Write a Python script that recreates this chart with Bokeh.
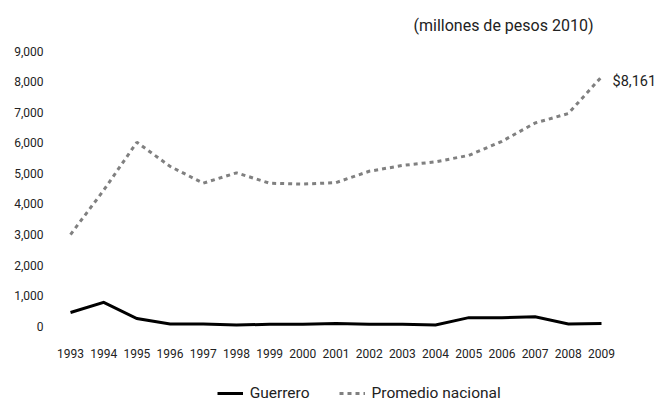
from bokeh.plotting import figure
from bokeh.layouts import column
from bokeh.models import (Range1d, FixedTicker, NumeralTickFormatter, Legend,
                          LegendItem, Label)
from bokeh.embed import file_html
from bokeh.resources import INLINE

# ---- data ----
years = [1993, 1994, 1995, 1996, 1997, 1998, 1999, 2000, 2001,
         2002, 2003, 2004, 2005, 2006, 2007, 2008, 2009]
year_labels = ["1993", "1994", "1995", "1996", "1997", "1998", "1999", "2000", "2001",
               "2002", "2003", "2004", "2005", "2006", "2007", "2008", "2009"]
guerrero = [450, 780, 250, 70, 70, 40, 60, 60, 90, 65, 60, 40, 280, 280, 310, 70, 90]
promedio = [3000, 4450, 6020, 5230, 4680, 5020, 4680, 4650, 4700, 5070,
            5260, 5380, 5590, 6050, 6650, 6960, 8161]
y_ticks = [0, 1000, 2000, 3000, 4000, 5000, 6000, 7000, 8000, 9000]
series_names = ["Guerrero", "Promedio nacional"]
unit_note = "(millones de pesos 2010)"

FONT = "Roboto"
TXT = "#222222"
STYLES = [dict(line_color="black", line_width=3, line_join="miter"),
          dict(line_color="#808080", line_width=3, line_dash="4 4")]

# ---- main chart ----
p = figure(width=661, height=372, output_backend="svg", toolbar_location=None,
           x_range=Range1d(1992.397, 2010.808), y_range=Range1d(-402.5, 10659),
           min_border_left=50, min_border_right=0, min_border_top=0,
           min_border_bottom=34)
p.outline_line_color = None
p.grid.visible = False
p.background_fill_color = "white"
p.border_fill_color = "white"

p.line(years, guerrero, **STYLES[0])
p.line(years, promedio, **STYLES[1])

for ax in (p.xaxis[0], p.yaxis[0]):
    ax.axis_line_color = None
    ax.major_tick_line_color = None
    ax.minor_tick_line_color = None
    ax.major_tick_out = 0
    ax.major_tick_in = 0
    ax.major_label_text_font = FONT
    ax.major_label_text_font_size = "12px"
    ax.major_label_text_color = TXT

p.xaxis.ticker = FixedTicker(ticks=years)
p.xaxis.major_label_overrides = {y: s for y, s in zip(years, year_labels)}
p.xaxis.major_label_standoff = 10

p.yaxis.ticker = FixedTicker(ticks=y_ticks)
p.yaxis.formatter = NumeralTickFormatter(format="0,0")
p.yaxis.major_label_standoff = 7

p.add_layout(Label(x=363, y=313, x_units="screen", y_units="screen",
                   text=unit_note, text_baseline="middle",
                   text_font=FONT, text_font_size="16px", text_color=TXT))

p.add_layout(Label(x=years[-1], y=promedio[-1], x_offset=11, y_offset=-5,
                   text="${:,}".format(promedio[-1]), text_baseline="middle",
                   text_font=FONT, text_font_size="14.5px", text_color=TXT))

# ---- legend strip (series shown only as legend keys; data lies outside its view) ----
p2 = figure(width=661, height=30, output_backend="svg", toolbar_location=None,
            x_range=Range1d(0, 1), y_range=Range1d(0, 1),
            x_axis_location=None, y_axis_location=None,
            min_border_left=0, min_border_right=0, min_border_top=0,
            min_border_bottom=0)
p2.grid.visible = False
p2.outline_line_color = None
p2.background_fill_color = "white"
p2.border_fill_color = "white"
lr1 = p2.line(years, guerrero, **STYLES[0])
lr2 = p2.line(years, promedio, **STYLES[1])

legend = Legend(items=[LegendItem(label=series_names[0], renderers=[lr1]),
                       LegendItem(label=series_names[1], renderers=[lr2])],
                location=(166.7, 0), orientation="horizontal",
                glyph_width=26, glyph_height=14, label_height=14,
                label_standoff=7, spacing=29, padding=0, margin=0,
                border_line_color=None, background_fill_alpha=0,
                label_text_font=FONT, label_text_font_size="15.5px",
                label_text_color=TXT)
p2.add_layout(legend)

layout = column(p, p2, spacing=0)
open("out.html", "w").write(file_html(layout, INLINE))
